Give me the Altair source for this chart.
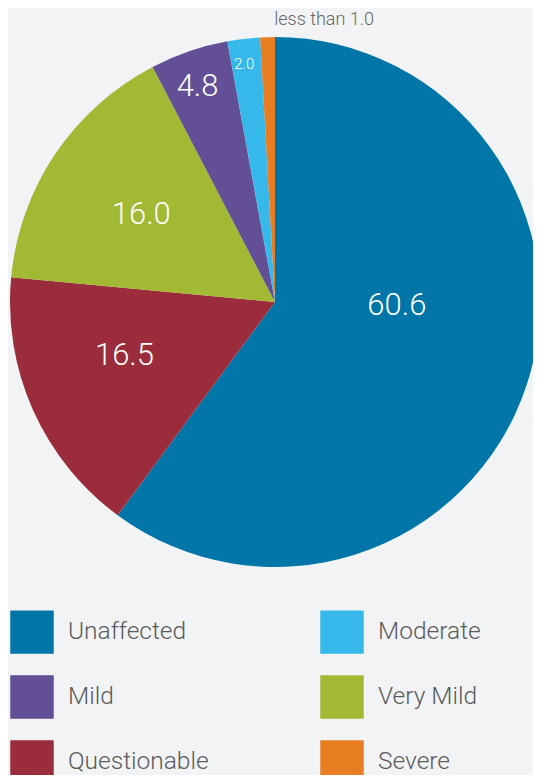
import altair as alt
import pandas as pd

# Slice order (clockwise from 12 o'clock)
categories = ["Unaffected", "Questionable", "Very Mild", "Mild", "Moderate", "Severe"]
values = [60.6, 16.5, 16.0, 4.8, 2.0, 0.9]
labels = ["60.6", "16.5", "16.0", "4.8", "2.0", "less than 1.0"]

# Legend order (column-wise, 2 columns x 3 rows) and colours
legend_order = ["Unaffected", "Mild", "Questionable", "Moderate", "Very Mild", "Severe"]
legend_colors = ["#0076a8", "#624f96", "#9b2c3b", "#36b9ea", "#a2ba33", "#e87d22"]

df = pd.DataFrame({
    "category": categories,
    "value": values,
    "label": labels,
    "idx": list(range(len(categories))),
})

FONT = "Roboto"
CX, CY, R = 267, 294, 265

pie = alt.Chart(df).mark_arc(radius=R, strokeWidth=0).encode(
    theta=alt.Theta("value:Q", stack=True),
    order=alt.Order("idx:Q"),
    x=alt.value(CX),
    y=alt.value(CY),
    color=alt.Color(
        "category:N",
        scale=alt.Scale(domain=legend_order, range=legend_colors),
        legend=alt.Legend(
            title=None,
            orient="none",
            legendX=2,
            legendY=602,
            columns=2,
            symbolType="square",
            symbolSize=1890,
            symbolStrokeWidth=0,
            symbolOpacity=1,
            labelFont=FONT,
            labelFontWeight=300,
            labelFontSize=24.5,
            labelColor="#5b5b5b",
            labelOffset=14,
            labelLimit=400,
            rowPadding=21,
            columnPadding=111,
            padding=0,
        ),
    ),
)

# label base: mid-angle of each slice computed over the full data, then filtered
lbase = (
    alt.Chart(df)
    .transform_window(cum="sum(value)", sort=[alt.SortField("idx")])
    .transform_joinaggregate(total="sum(value)")
    .transform_calculate(ang="(datum.cum - datum.value / 2) / datum.total * 2 * PI")
    .encode(
        theta=alt.Theta("ang:Q", scale=None),
        x=alt.value(CX),
        y=alt.value(CY),
        text="label:N",
    )
)


def label_layer(cat, radius, dx, dy, size, color):
    return lbase.transform_filter(alt.datum.category == cat).mark_text(
        radius=radius, dx=dx, dy=dy, fontSize=size, font=FONT, fontWeight=300,
        color=color, align="center", baseline="middle",
    )


layers = [
    pie,
    label_layer("Unaffected", 123, 5, -34, 31, "white"),
    label_layer("Questionable", 160, -4.5, -11, 31, "white"),
    label_layer("Very Mild", 160, -1, 2, 31, "white"),
    label_layer("Mild", 228, -3.5, 1, 31, "white"),
    label_layer("Moderate", 240, -2.5, 0, 15, "white"),
    label_layer("Severe", 282, 57, 0, 18, "#666666"),
]

chart = alt.layer(*layers).properties(
    width=525,
    height=767,
    autosize=alt.AutoSizeParams(type="none"),
    padding=0,
).configure(background="#f2f3f5").configure_view(stroke=None)

chart.save("out.html", embed_options={"renderer": "svg", "actions": False})
